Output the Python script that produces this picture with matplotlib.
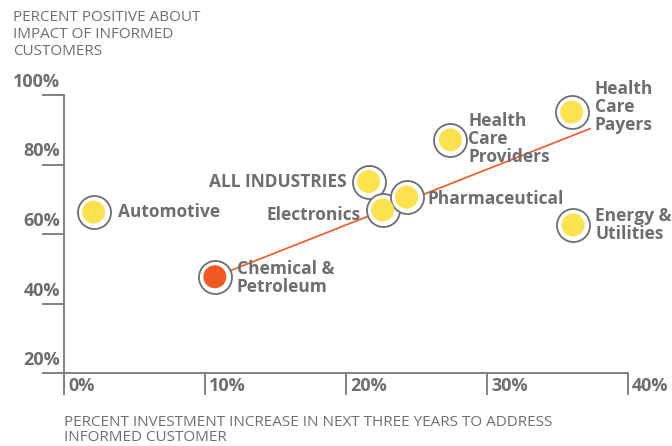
import matplotlib.pyplot as plt

# data
industries = ['Automotive', 'Chemical &\nPetroleum', 'ALL INDUSTRIES', 'Electronics',
              'Pharmaceutical', 'Health\nCare\nProviders', 'Health\nCare\nPayers',
              'Energy &\nUtilities']
invest = [2.1, 10.7, 21.6, 22.6, 24.3, 27.4, 36.0, 36.1]
positive = [66.3, 47.7, 75.1, 66.9, 70.6, 87.1, 95.1, 62.6]
trend_x = [10.7, 37.3]
trend_y = [47.7, 90.3]

x_ticks = [0, 10, 20, 30, 40]
y_ticks = [20, 40, 60, 80, 100]

gray = '#6d6e71'
yellow = '#fde24f'
orange = '#f05a22'

# label offsets in pixels (dx, dy) and alignment
offsets = [(24, 0, 'left'), (22, -1, 'left'), (-22, 0, 'right'), (-22, -5, 'right'),
           (21, -2, 'left'), (18, 1, 'left'), (23, 5, 'left'), (22, 0, 'left')]

plt.rcParams['font.family'] = ['Open Sans', 'DejaVu Sans']

fig = plt.figure(figsize=(6.72, 4.46), dpi=100)
ax = fig.add_axes([64 / 672, 1 - 373 / 446, (628 - 64) / 672, (373 - 95) / 446])

ax.set_xlim(0, 40)
ax.set_ylim(20, 100)

ax.plot(trend_x, trend_y, color=orange, linewidth=1.2, zorder=2, clip_on=False)

colors = [yellow] * len(invest)
colors[1] = orange
ax.scatter(invest, positive, s=33 ** 2 * 0.52, facecolor='white', edgecolor=gray,
           linewidth=1.3, zorder=3, clip_on=False)
ax.scatter(invest, positive, s=23 ** 2 * 0.52, facecolor=colors, edgecolor='none',
           zorder=4, clip_on=False)

for name, x, y, (dx, dy, ha) in zip(industries, invest, positive, offsets):
    ax.annotate(name, xy=(x, y), xytext=(dx, dy), textcoords='offset pixels',
                ha=ha, va='center', fontsize=12.5, fontweight='bold', color=gray,
                linespacing=1.0, zorder=5)

# spines and ticks
for s in ['top', 'right']:
    ax.spines[s].set_visible(False)
for s in ['left', 'bottom']:
    ax.spines[s].set_color('#777777')
    ax.spines[s].set_linewidth(1.3)

ax.set_xticks(x_ticks)
ax.set_yticks(y_ticks)
ax.tick_params(axis='both', direction='out', length=16, width=1.3, color='#777777',
               labelbottom=False, labelleft=False)

for v in x_ticks:
    ax.annotate(f'{v}%', xy=(v, 0), xycoords=('data', 'axes fraction'),
                xytext=(4, -13), textcoords='offset pixels', ha='left', va='center',
                fontsize=13, fontweight='bold', color=gray)
for v in y_ticks:
    ax.annotate(f'{v}%', xy=(0, v), xycoords=('axes fraction', 'data'),
                xytext=(-4, 13), textcoords='offset pixels', ha='right', va='center',
                fontsize=13, fontweight='bold', color=gray)

fig.text(13 / 672, 1 - 10 / 446, 'PERCENT POSITIVE ABOUT\nIMPACT OF INFORMED\nCUSTOMERS',
         ha='left', va='top', fontsize=11, color=gray, linespacing=1.2)
fig.text(64 / 672, 1 - 415 / 446, 'PERCENT INVESTMENT INCREASE IN NEXT THREE YEARS TO ADDRESS\nINFORMED CUSTOMER',
         ha='left', va='top', fontsize=11, color=gray, linespacing=1.0)

plt.savefig('out.png', dpi=100)
